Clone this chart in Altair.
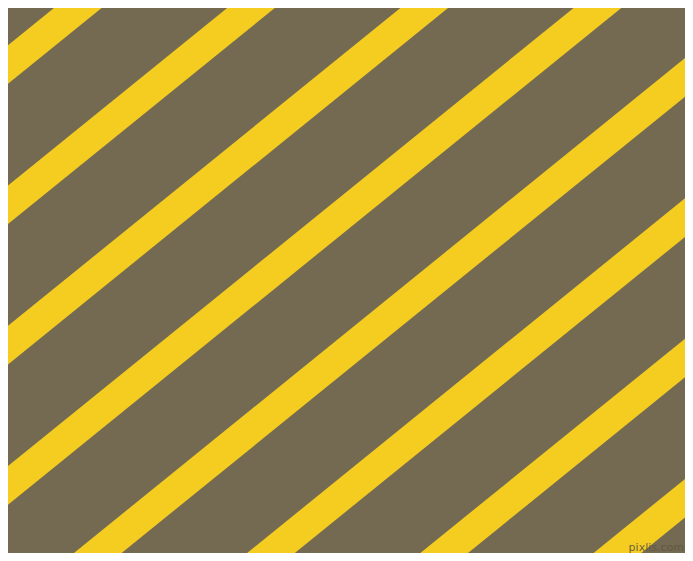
import altair as alt
import pandas as pd

# Stripe intercepts on the left edge (pixel rows, image coordinates)
stripe_intercepts = [71, 211.3, 351.6, 491.9, 632.2, 772.5, 912.8, 1053.1]
stripe_slope = 0.81          # rise per pixel (about 39 degrees)
watermark = ["pixlis.com"]

BG = "#736A51"
STRIPE = "#F5CD21"

rows = []
for i, y0 in enumerate(stripe_intercepts):
    for xe in (-60, 760):
        rows.append({"stripe": i, "x": xe, "y": y0 - stripe_slope * xe})
df = pd.DataFrame(rows)

# page has an 8px margin all round: the chart covers image pixels 8..685 x 8..553
X0, X1, Y0, Y1 = 8, 685, 8, 553
W, H = X1 - X0, Y1 - Y0
xs = alt.Scale(domain=[X0, X1], nice=False, zero=False)
ys = alt.Scale(domain=[Y0, Y1], nice=False, zero=False, reverse=True)

stripes = alt.Chart(df).mark_line(
    color=STRIPE, strokeWidth=30, strokeCap="butt", clip=True
).encode(
    x=alt.X("x:Q", scale=xs, axis=None),
    y=alt.Y("y:Q", scale=ys, axis=None),
    detail="stripe:N",
)

wm = alt.Chart(pd.DataFrame({"t": watermark, "x": [684], "y": [551]})).mark_text(
    align="right", baseline="alphabetic", fontSize=11, font="DejaVu Sans",
    color="#5E5842", opacity=0.9
).encode(
    x=alt.X("x:Q", scale=xs, axis=None),
    y=alt.Y("y:Q", scale=ys, axis=None),
    text="t:N",
)

chart = alt.layer(stripes, wm).properties(
    width=W, height=H, padding=0, background=BG,
    autosize=alt.AutoSizeParams(type="none"),
).configure_view(fill=BG, stroke=None)

chart.save("out.html", embed_options={"renderer": "svg", "actions": False})
